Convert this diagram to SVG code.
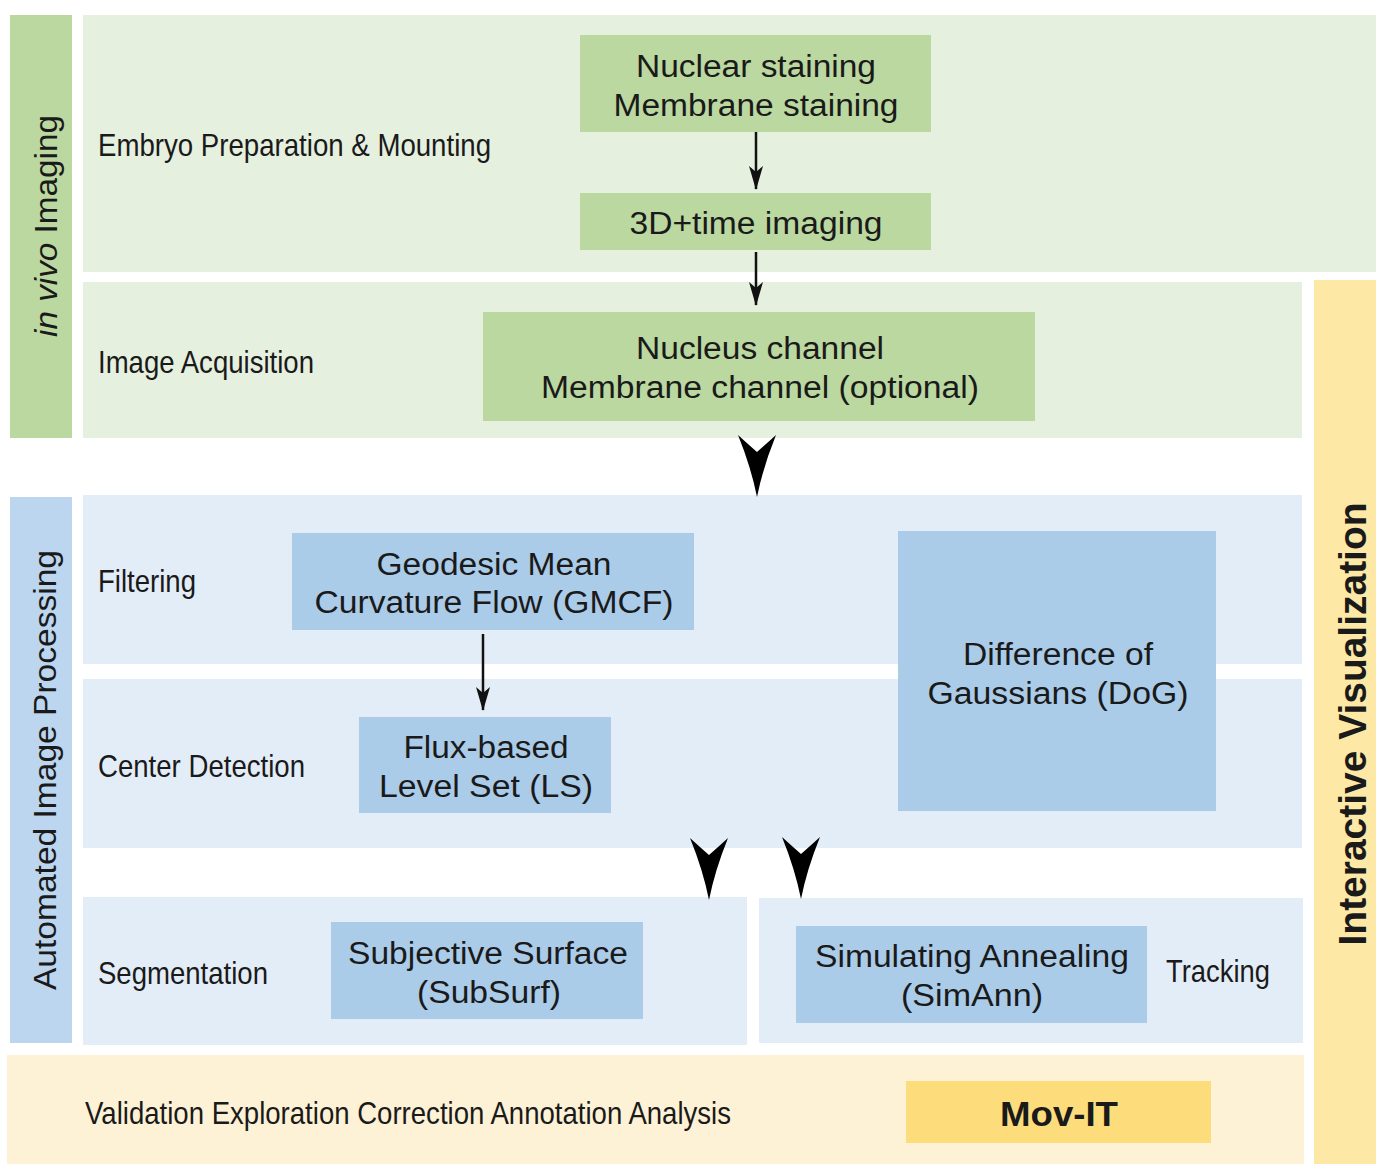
<svg xmlns="http://www.w3.org/2000/svg" width="1376" height="1164" viewBox="0 0 1376 1164">
<style>
.band-g{fill:#e5f0de}
.box-g{fill:#bad8a0}
.band-b{fill:#e3edf8}
.box-b{fill:#abcce9}
.side-b{fill:#bcd6ef}
.yel{fill:#fde8a6}
.yel-l{fill:#fef2d6}
.mov{fill:#fddc7c}
text{font-family:"Liberation Sans",Arial,sans-serif;fill:#1a1a1a}
.t{font-size:31px;text-anchor:middle}
.l{font-size:32px}
.side{font-size:32px;text-anchor:middle}
.conn{stroke:#111;stroke-width:2.5;fill:none}
</style>
<defs>
<marker id="ah" viewBox="0 0 24 14" refX="23" refY="7" markerWidth="24" markerHeight="14" markerUnits="userSpaceOnUse" orient="auto">
<path d="M0,0 L24,7 L0,14 L6,7 Z" fill="#111"/>
</marker>
<path id="big" d="M-19,-62 Q-8,-52 0,-45 Q8,-52 19,-62 Q6,-30 0,0 Q-6,-30 -19,-62 Z" fill="#000"/>
</defs>
<rect width="1376" height="1164" fill="#ffffff"/>

<g id="in-vivo-sidebar">
<rect x="10" y="15" width="62" height="423" class="box-g"/>
<text class="side" transform="translate(57,226) rotate(-90)" textLength="222" lengthAdjust="spacingAndGlyphs"><tspan font-style="italic">in vivo</tspan> Imaging</text>
</g>

<g id="embryo-band">
<rect x="83" y="15" width="1293" height="257" class="band-g"/>
<text class="l" x="98" y="156" textLength="393" lengthAdjust="spacingAndGlyphs">Embryo Preparation &amp; Mounting</text>
</g>

<g id="staining">
<rect x="580" y="35" width="351" height="97" class="box-g"/>
<text class="t" x="756" y="77" textLength="240" lengthAdjust="spacingAndGlyphs">Nuclear staining</text>
<text class="t" x="756" y="116" textLength="285" lengthAdjust="spacingAndGlyphs">Membrane staining</text>
</g>

<g id="imaging3d">
<rect x="580" y="193" width="351" height="57" class="box-g"/>
<text class="t" x="756" y="234" textLength="253" lengthAdjust="spacingAndGlyphs">3D+time imaging</text>
</g>

<g id="acquisition-band">
<rect x="83" y="282" width="1219" height="156" class="band-g"/>
<text class="l" x="98" y="373" textLength="216" lengthAdjust="spacingAndGlyphs">Image Acquisition</text>
</g>

<g id="channels">
<rect x="483" y="312" width="552" height="109" class="box-g"/>
<text class="t" x="760" y="359" textLength="248" lengthAdjust="spacingAndGlyphs">Nucleus channel</text>
<text class="t" x="760" y="398" textLength="438" lengthAdjust="spacingAndGlyphs">Membrane channel (optional)</text>
</g>

<g id="interactive-visualization">
<rect x="1314" y="280" width="62" height="884" class="yel"/>
<text transform="translate(1366,724) rotate(-90)" text-anchor="middle" font-size="38" font-weight="bold" textLength="443" lengthAdjust="spacingAndGlyphs">Interactive Visualization</text>
</g>

<g id="aip-sidebar">
<rect x="10" y="497" width="62" height="546" class="side-b"/>
<text class="side" transform="translate(56,770) rotate(-90)" textLength="440" lengthAdjust="spacingAndGlyphs">Automated Image Processing</text>
</g>

<g id="filtering-band">
<rect x="83" y="495" width="1219" height="169" class="band-b"/>
<text class="l" x="98" y="592" textLength="98" lengthAdjust="spacingAndGlyphs">Filtering</text>
</g>

<g id="center-detection-band">
<rect x="83" y="679" width="1219" height="169" class="band-b"/>
<text class="l" x="98" y="777" textLength="207" lengthAdjust="spacingAndGlyphs">Center Detection</text>
</g>

<g id="gmcf">
<rect x="292" y="533" width="402" height="97" class="box-b"/>
<text class="t" x="494" y="575" textLength="235" lengthAdjust="spacingAndGlyphs">Geodesic Mean</text>
<text class="t" x="494" y="613" textLength="359" lengthAdjust="spacingAndGlyphs">Curvature Flow (GMCF)</text>
</g>

<g id="ls">
<rect x="359" y="717" width="252" height="96" class="box-b"/>
<text class="t" x="486" y="758" textLength="165" lengthAdjust="spacingAndGlyphs">Flux-based</text>
<text class="t" x="486" y="797" textLength="214" lengthAdjust="spacingAndGlyphs">Level Set (LS)</text>
</g>

<g id="dog">
<rect x="898" y="531" width="318" height="280" class="box-b"/>
<text class="t" x="1058" y="665" textLength="190" lengthAdjust="spacingAndGlyphs">Difference of</text>
<text class="t" x="1058" y="704" textLength="261" lengthAdjust="spacingAndGlyphs">Gaussians (DoG)</text>
</g>

<g id="segmentation-band">
<rect x="83" y="897" width="664" height="148" class="band-b"/>
<text class="l" x="98" y="984" textLength="170" lengthAdjust="spacingAndGlyphs">Segmentation</text>
</g>

<g id="subsurf">
<rect x="331" y="922" width="312" height="97" class="box-b"/>
<text class="t" x="488" y="964" textLength="280" lengthAdjust="spacingAndGlyphs">Subjective Surface</text>
<text class="t" x="489" y="1003" textLength="144" lengthAdjust="spacingAndGlyphs">(SubSurf)</text>
</g>

<g id="tracking-band">
<rect x="759" y="898" width="544" height="145" class="band-b"/>
<text class="l" x="1166" y="982" textLength="104" lengthAdjust="spacingAndGlyphs">Tracking</text>
</g>

<g id="simann">
<rect x="796" y="926" width="351" height="97" class="box-b"/>
<text class="t" x="972" y="967" textLength="314" lengthAdjust="spacingAndGlyphs">Simulating Annealing</text>
<text class="t" x="972" y="1006" textLength="142" lengthAdjust="spacingAndGlyphs">(SimAnn)</text>
</g>

<g id="validation-band">
<rect x="7" y="1055" width="1297" height="109" class="yel-l"/>
<text class="l" x="85" y="1124" textLength="646" lengthAdjust="spacingAndGlyphs">Validation Exploration Correction Annotation Analysis</text>
</g>

<g id="movit">
<rect x="906" y="1081" width="305" height="62" class="mov"/>
<text x="1059" y="1126" text-anchor="middle" font-size="35" font-weight="bold" textLength="118" lengthAdjust="spacingAndGlyphs">Mov-IT</text>
</g>

<g id="connectors">
<line class="conn" x1="756" y1="132" x2="756" y2="189" marker-end="url(#ah)"/>
<line class="conn" x1="756" y1="252" x2="756" y2="305" marker-end="url(#ah)"/>
<line class="conn" x1="483" y1="634" x2="483" y2="710" marker-end="url(#ah)"/>
<use href="#big" transform="translate(757,497)"/>
<use href="#big" transform="translate(709,900)"/>
<use href="#big" transform="translate(801,899)"/>
</g>
</svg>
